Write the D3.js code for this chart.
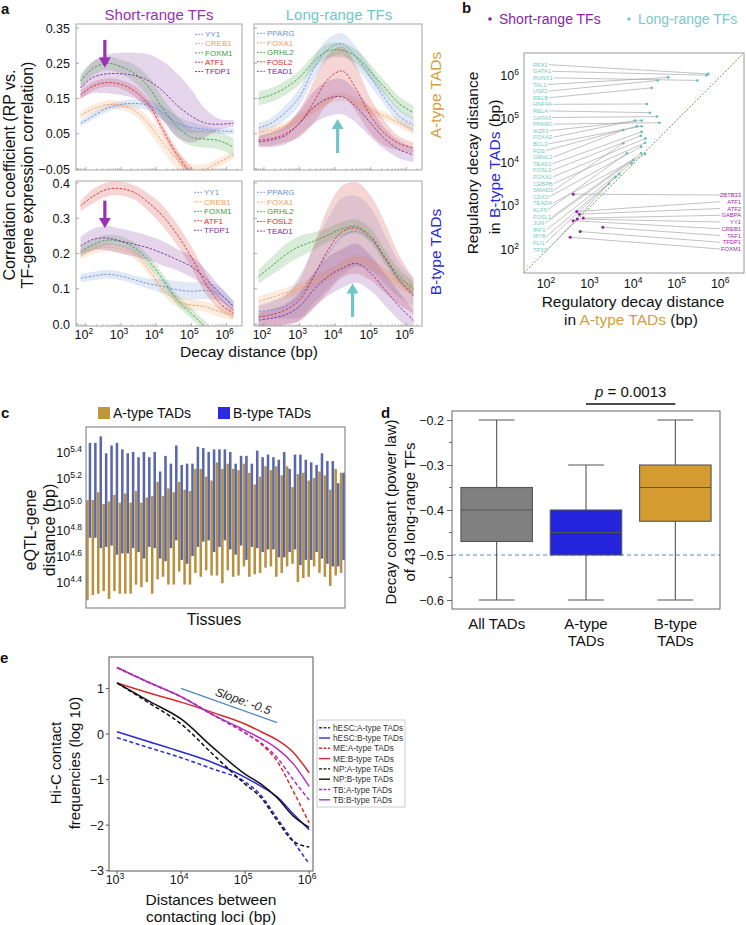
<!DOCTYPE html>
<html><head><meta charset="utf-8">
<script src="https://cdn.jsdelivr.net/npm/d3@7"></script>
<style>
body{margin:0;background:#fff}
svg{font-family:"Liberation Sans",Arial,Helvetica,sans-serif}
</style></head>
<body><svg id="fig" width="746" height="925"></svg>
<script>
// ================= DATA =================
const decayLog = [1.85, 2.2, 2.6, 3.0, 3.4, 3.8, 4.2, 4.6, 5.0, 5.4, 5.8, 6.2];
const shortTFs = ["YY1","CREB1","FOXM1","ATF1","TFDP1"];
const longTFs  = ["PPARG","FOXA1","GRHL2","FOSL2","TEAD1"];
const tfColors = ["#6b8fd9","#f0a060","#3f9b3f","#d42b2b","#7b2c9c"];

const shortA_mean = [
  [0.08,0.10,0.122,0.133,0.136,0.13,0.108,0.08,0.068,0.063,0.058,0.057],
  [0.103,0.12,0.133,0.13,0.115,0.075,0.025,-0.025,-0.055,-0.05,-0.03,-0.01],
  [0.20,0.235,0.25,0.24,0.22,0.18,0.12,0.07,0.04,0.035,0.03,0.012],
  [0.16,0.185,0.195,0.19,0.17,0.13,0.06,-0.01,-0.06,-0.08,-0.08,-0.08],
  [0.18,0.21,0.22,0.22,0.215,0.20,0.17,0.13,0.10,0.08,0.077,0.08]];
const shortA_band = [
  [0.008,0.01,0.01,0.01,0.012,0.015,0.02,0.02,0.015,0.01,0.008,0.008],
  [0.01,0.012,0.012,0.012,0.015,0.02,0.025,0.025,0.02,0.015,0.012,0.01],
  [0.02,0.02,0.02,0.02,0.025,0.03,0.03,0.03,0.025,0.025,0.025,0.025],
  [0.012,0.012,0.012,0.012,0.015,0.015,0.015,0.015,0.015,0.012,0.012,0.012],
  [0.03,0.045,0.055,0.06,0.065,0.075,0.085,0.09,0.075,0.04,0.015,0.01]];
const longA_mean = [
  [0.066,0.08,0.11,0.155,0.235,0.29,0.305,0.265,0.21,0.15,0.10,0.075],
  [0.052,0.06,0.072,0.094,0.12,0.145,0.155,0.138,0.117,0.10,0.08,0.06],
  [0.15,0.16,0.18,0.21,0.255,0.285,0.287,0.268,0.225,0.18,0.135,0.11],
  [0.032,0.036,0.05,0.08,0.14,0.205,0.228,0.175,0.10,0.05,0.022,0.01],
  [0.027,0.032,0.045,0.08,0.125,0.15,0.155,0.125,0.08,0.035,0.005,-0.01]];
const longA_band = [
  [0.015,0.015,0.02,0.025,0.03,0.03,0.03,0.03,0.025,0.02,0.02,0.02],
  [0.012,0.012,0.012,0.012,0.012,0.012,0.012,0.012,0.012,0.012,0.012,0.012],
  [0.02,0.02,0.02,0.02,0.02,0.02,0.02,0.02,0.02,0.02,0.02,0.02],
  [0.015,0.02,0.025,0.04,0.06,0.07,0.07,0.065,0.05,0.035,0.02,0.015],
  [0.015,0.02,0.025,0.035,0.045,0.05,0.05,0.045,0.04,0.03,0.025,0.02]];
const shortB_mean = [
  [0.13,0.136,0.141,0.136,0.125,0.114,0.106,0.097,0.093,0.095,0.085,0.05],
  [0.196,0.21,0.218,0.212,0.196,0.154,0.097,0.064,0.054,0.049,0.035,0.026],
  [0.205,0.225,0.238,0.234,0.215,0.177,0.125,0.068,0.03,-0.008,-0.04,-0.06],
  [0.335,0.362,0.382,0.384,0.372,0.343,0.305,0.253,0.19,0.116,0.06,0.03],
  [0.222,0.24,0.244,0.235,0.226,0.215,0.20,0.182,0.163,0.13,0.088,0.05]];
const shortB_band = [
  [0.012,0.012,0.012,0.012,0.012,0.015,0.02,0.025,0.025,0.025,0.02,0.015],
  [0.012,0.012,0.012,0.012,0.012,0.015,0.015,0.015,0.015,0.015,0.015,0.015],
  [0.015,0.015,0.015,0.015,0.015,0.015,0.015,0.015,0.015,0.015,0.015,0.015],
  [0.015,0.02,0.02,0.02,0.02,0.025,0.03,0.03,0.03,0.03,0.02,0.015],
  [0.025,0.03,0.035,0.035,0.035,0.035,0.035,0.03,0.03,0.025,0.02,0.015]];
const longB_mean = [
  [0.035,0.04,0.05,0.078,0.138,0.20,0.248,0.263,0.24,0.182,0.125,0.09],
  [0.064,0.075,0.088,0.101,0.12,0.139,0.163,0.182,0.168,0.144,0.116,0.095],
  [0.135,0.163,0.196,0.22,0.235,0.252,0.27,0.277,0.25,0.19,0.135,0.10],
  [0.02,0.026,0.04,0.068,0.135,0.21,0.262,0.272,0.244,0.187,0.125,0.08],
  [0.011,0.016,0.026,0.05,0.097,0.135,0.158,0.172,0.144,0.097,0.05,0.01]];
const longB_band = [
  [0.02,0.025,0.035,0.06,0.08,0.10,0.11,0.10,0.09,0.07,0.05,0.04],
  [0.015,0.015,0.015,0.015,0.015,0.015,0.015,0.015,0.015,0.015,0.015,0.015],
  [0.02,0.025,0.03,0.03,0.025,0.02,0.02,0.02,0.02,0.02,0.02,0.02],
  [0.03,0.035,0.04,0.06,0.09,0.12,0.13,0.13,0.12,0.10,0.07,0.05],
  [0.02,0.025,0.03,0.04,0.05,0.055,0.055,0.055,0.05,0.045,0.04,0.03]];
const aTopTicks = [-0.05,0.05,0.15,0.25,0.35];
const aBotTicks = [0,0.1,0.2,0.3,0.4];
const decadeTicks = [2,3,4,5,6];

// Panel b
const bLongNames = ["RFX1","GATA1","RUNX1","TAL1","USF2","RELB","HNF4A","RELA","GATA3","PPARG","IKZF1","FOXA2","BCL3","FOS","GRHL2","TEAD1","FOSL2","FOXA1","CEBPB","SMAD3","CDX2","TEAD4","KLF5","FOSL1","JUN","IRF1","MYB","FLI1","TP53"];
const bLongA = [5.68,5.64,5.43,4.76,4.52,4.38,4.27,4.34,4.50,4.56,4.15,4.00,4.15,4.04,3.73,4.15,4.13,4.24,4.23,3.73,4.14,4.23,3.81,4.14,3.96,3.92,3.64,3.55,3.40];
const bLongB = [6.02,5.99,5.87,5.94,5.87,5.70,5.33,5.13,5.04,4.90,4.95,4.95,4.82,4.82,4.73,4.69,4.60,4.54,4.44,4.43,4.35,4.18,4.20,4.20,4.04,3.97,3.72,3.65,3.50];
const bShortNames = ["ZBTB33","ATF1","ATF2","GABPA","YY1","CREB1","TAF1","TFDP1","FOXM1"];
const bShortA = [2.58,2.66,2.72,2.81,2.67,2.58,3.26,2.74,2.51];
const bShortB = [3.26,2.86,2.80,2.71,2.69,2.65,2.50,2.40,2.27];
const bTicks = [2,3,4,5,6];

// Panel c
const cATop = [5.03,5.03,5.09,5.00,5.02,5.07,5.01,5.08,5.01,5.10,5.01,5.05,5.06,5.17,5.06,5.12,5.09,5.17,5.11,5.10,5.27,5.27,5.21,5.18,5.32,5.27,5.31,5.27,5.26,5.31,5.24,5.15,5.21,5.29,5.26,5.29,5.22,5.29,5.13,5.23,5.24,5.18,5.20,5.25,5.22,5.11,5.27,5.24];
const cABot = [4.26,4.30,4.31,4.33,4.27,4.33,4.31,4.31,4.31,4.38,4.36,4.40,4.31,4.42,4.44,4.38,4.38,4.48,4.38,4.38,4.47,4.44,4.49,4.45,4.45,4.39,4.49,4.44,4.45,4.52,4.44,4.46,4.47,4.51,4.52,4.44,4.47,4.52,4.54,4.40,4.43,4.44,4.52,4.47,4.44,4.37,4.45,4.47];
const cBTop = [5.47,5.47,5.52,5.39,5.45,5.47,5.42,5.39,5.40,5.36,5.40,5.36,5.40,5.25,5.37,5.31,5.45,5.30,5.31,5.31,5.44,5.43,5.40,5.42,5.42,5.42,5.40,5.31,5.37,5.37,5.31,5.41,5.36,5.38,5.36,5.34,5.40,5.27,5.38,5.38,5.34,5.32,5.30,5.39,5.33,5.33,5.16,5.24];
const cBBot = [4.74,4.74,4.66,4.67,4.68,4.61,4.62,4.62,4.66,4.63,4.58,4.67,4.66,4.58,4.56,4.66,4.72,4.57,4.54,4.60,4.67,4.71,4.72,4.63,4.67,4.72,4.65,4.61,4.68,4.57,4.67,4.66,4.63,4.65,4.65,4.59,4.59,4.63,4.65,4.53,4.57,4.57,4.63,4.58,4.54,4.52,4.52,4.57];
const cTicks = [4.4,4.6,4.8,5.0,5.2,5.4];

// Panel d
const dCats = ["All TADs","A-type TADs","B-type TADs"];
const dMin = [-0.6,-0.6,-0.6], dQ1 = [-0.47,-0.5,-0.425], dMed = [-0.40,-0.45,-0.35], dQ3 = [-0.35,-0.40,-0.30], dMax = [-0.2,-0.3,-0.2];
const dColors = ["#808080","#2424dc","#d39b30"];
const dTicks = [-0.6,-0.5,-0.4,-0.3,-0.2];

// Panel e
const eX = [3, 3.5, 4, 4.5, 5, 5.25, 5.5, 5.75, 6];
const eNames = ["hESC:A-type TADs","hESC:B-type TADs","ME:A-type TADs","ME:B-type TADs","NP:A-type TADs","NP:B-type TADs","TB:A-type TADs","TB:B-type TADs"];
const eColors = ["#2b2bd6","#2b2bd6","#d62a2a","#d62a2a","#111111","#111111","#b02fc0","#b02fc0"];
const eDashed = [true,false,true,false,true,false,true,false];
const eY = [
  [-0.08,-0.30,-0.52,-0.77,-1.05,-1.35,-1.85,-2.35,-2.85],
  [0.05,-0.17,-0.39,-0.63,-0.95,-1.15,-1.38,-1.75,-2.10],
  [1.46,1.13,0.82,0.42,0.03,-0.22,-0.60,-1.25,-1.95],
  [1.12,0.90,0.70,0.47,0.22,0.05,-0.13,-0.40,-0.85],
  [1.12,0.68,0.22,-0.45,-1.10,-1.40,-1.90,-2.35,-2.48],
  [1.12,0.72,0.33,-0.30,-0.88,-1.10,-1.40,-1.80,-2.05],
  [1.46,1.13,0.82,0.42,0.02,-0.20,-0.52,-1.00,-1.45],
  [1.46,1.13,0.82,0.42,0.08,-0.10,-0.32,-0.65,-1.15]];
const eYTicks = [-3,-2,-1,0,1];
const eXTicks = [3,4,5,6];
const slopeX = [4.0,5.5], slopeY = [1.0,0.25];

// ================= DRAW =================
const svg = d3.select("#fig");
const defs = svg.append("defs");
let clipN = 0;
function sup(t, base, exp, fs){
  t.text(null);
  t.append("tspan").text(base);
  t.append("tspan").attr("dy", -fs*0.42).attr("font-size", fs*0.68).text(exp);
}
function txt(x,y,s,o={}){
  const t = svg.append("text").attr("x",x).attr("y",y).text(s)
    .attr("font-size",o.fs||12).attr("fill",o.fill||"#111")
    .attr("text-anchor",o.anchor||"start");
  if(o.bold) t.attr("font-weight","bold");
  if(o.rot!=null) t.attr("transform",`rotate(${o.rot},${x},${y})`);
  return t;
}

// ---- Panel a ----
txt(1,14,"a",{fs:15,bold:true});
txt(159,20,"Short-range TFs",{fs:15,anchor:"middle",fill:"#9b2fb0"});
txt(339,20,"Long-range TFs",{fs:15,anchor:"middle",fill:"#6ec6c8"});
const aXDom = [1.72,6.44];
function curvePanel(x0,x1,ys,yt,yb,means,bands,names,lx,ly,lstep,yTicks,yFmt,showXLab){
  const xs = d3.scaleLinear().domain(aXDom).range([x0,x1]);
  const id = "cl"+(clipN++);
  defs.append("clipPath").attr("id",id).append("rect").attr("x",x0).attr("y",yt).attr("width",x1-x0).attr("height",yb-yt);
  const g = svg.append("g");
  const pg = g.append("g").attr("clip-path",`url(#${id})`);
  means.forEach((m,i)=>{
    const pts = decayLog.map((x,j)=>({x,y:m[j],b:bands[i][j]}));
    pg.append("path").datum(pts)
      .attr("d", d3.area().curve(d3.curveCatmullRom).x(d=>xs(d.x)).y0(d=>ys(d.y-d.b)).y1(d=>ys(d.y+d.b)))
      .attr("fill",tfColors[i]).attr("fill-opacity",0.2);
  });
  means.forEach((m,i)=>{
    const pts = decayLog.map((x,j)=>({x,y:m[j]}));
    pg.append("path").datum(pts)
      .attr("d", d3.line().curve(d3.curveCatmullRom).x(d=>xs(d.x)).y(d=>ys(d.y)))
      .attr("fill","none").attr("stroke",tfColors[i]).attr("stroke-width",0.9).attr("stroke-dasharray","2.5,1.5");
  });
  g.append("rect").attr("x",x0).attr("y",yt).attr("width",x1-x0).attr("height",yb-yt).attr("fill","none").attr("stroke","#a5a5a5");
  const minor = [];
  for(let e=1;e<=6;e++) for(let k=2;k<=9;k++){const v=e+Math.log10(k); if(v>aXDom[0]&&v<aXDom[1]) minor.push(v);}
  g.selectAll(null).data(minor).enter().append("line").attr("x1",d=>xs(d)).attr("x2",d=>xs(d)).attr("y1",yb).attr("y2",yb-1.8).attr("stroke","#999").attr("stroke-width",0.6);
  g.selectAll(null).data(decadeTicks).enter().append("line").attr("x1",d=>xs(d)).attr("x2",d=>xs(d)).attr("y1",yb).attr("y2",yb-3).attr("stroke","#888").attr("stroke-width",0.7);
  g.selectAll(null).data(yTicks).enter().append("line").attr("x1",x0).attr("x2",x0+3).attr("y1",d=>ys(d)).attr("y2",d=>ys(d)).attr("stroke","#888").attr("stroke-width",0.7);
  if(yFmt){
    yTicks.forEach(v=>{ txt(x0-6, ys(v)+4.5, d3.format(yFmt)(v), {fs:12.5,anchor:"end"}); });
  }
  if(showXLab){
    decadeTicks.forEach(v=>sup(txt(xs(v)-2,339,"",{fs:12.5,anchor:"middle"}),"10",v,12.5));
  }
  names.forEach((n,i)=>{
    g.append("line").attr("x1",lx).attr("x2",lx+8).attr("y1",ly+i*lstep-2.7).attr("y2",ly+i*lstep-2.7).attr("stroke",tfColors[i]).attr("stroke-width",0.9).attr("stroke-dasharray","2,1.2");
    txt(lx+10,ly+i*lstep,n,{fs:8,fill:tfColors[i]});
  });
  return xs;
}
const aYTop = d3.scaleLinear().domain([-0.05,0.35]).range([169,28]);
const aYBot = d3.scaleLinear().domain([0,0.4]).range([324,183]);
const xTL = curvePanel(76,242,aYTop,24,170,shortA_mean,shortA_band,shortTFs,195,37,9.3,aTopTicks,".2f",false);
const xTR = curvePanel(254,422,aYTop,24,170,longA_mean,longA_band,longTFs,257,36,9.5,aTopTicks,null,false);
const xBL = curvePanel(76,242,aYBot,181,326,shortB_mean,shortB_band,shortTFs,194,195,9.5,aBotTicks,".1f",true);
const xBR = curvePanel(254,422,aYBot,181,326,longB_mean,longB_band,longTFs,257,195,9.7,aBotTicks,null,true);

function arrow(x,yTail,yTip,color){
  const dir = yTip>yTail?1:-1;
  svg.append("line").attr("x1",x).attr("x2",x).attr("y1",yTail).attr("y2",yTip-dir*7).attr("stroke",color).attr("stroke-width",3.2);
  svg.append("path").attr("d",`M${x-6},${yTip-dir*10}L${x+6},${yTip-dir*10}L${x},${yTip}Z`).attr("fill",color);
}
arrow(xTL(2.54),aYTop(0.316),aYTop(0.238),"#9b30b2");
arrow(xBL(2.54),aYBot(0.35),aYBot(0.272),"#9b30b2");
arrow(xTR(4.07),aYTop(-0.005),aYTop(0.092),"#6ec6c8");
arrow(xBR(4.49),aYBot(0.02),aYBot(0.115),"#6ec6c8");

txt(249,357,"Decay distance (bp)",{fs:15.5,anchor:"middle"});
txt(15,175,"Correlation coefficient (RP vs.",{fs:16,anchor:"middle",rot:-90});
txt(33,175,"TF-gene expression correlation)",{fs:16,anchor:"middle",rot:-90});
txt(441,95,"A-type TADs",{fs:15.5,anchor:"middle",fill:"#d3a040",rot:-90});
txt(441,252,"B-type TADs",{fs:15.5,anchor:"middle",fill:"#2a2ae0",rot:-90});

// ---- Panel b ----
txt(462,13,"b",{fs:15,bold:true});
svg.append("circle").attr("cx",490).attr("cy",19).attr("r",1.8).attr("fill","#8c1f9e");
txt(499,24,"Short-range TFs",{fs:14,fill:"#8c1f9e"});
svg.append("circle").attr("cx",629).attr("cy",19).attr("r",1.8).attr("fill","#7cc8c8");
txt(638,24,"Long-range TFs",{fs:14,fill:"#7cc8c8"});
const bx = d3.scaleLinear().domain([1.45,6.5]).range([524,744]);
const by = d3.scaleLinear().domain([1.45,6.5]).range([273,53]);
svg.append("line").attr("x1",bx(1.45)).attr("y1",by(1.45)).attr("x2",bx(6.5)).attr("y2",by(6.5)).attr("stroke","#5f9a3a").attr("stroke-width",0.9).attr("stroke-dasharray","2,1.6");
const lblLong = svg.append("g").attr("font-size",5.8).attr("fill","#72cbc2");
bLongNames.forEach((n,i)=>{
  const ly = 64.7 + i*6.6;
  const t = lblLong.append("text").attr("x",533).attr("y",ly+2).text(n);
  const w = t.node().getComputedTextLength();
  svg.append("line").attr("x1",533+w+1).attr("y1",ly).attr("x2",bx(bLongA[i])).attr("y2",by(bLongB[i])).attr("stroke","#a8a8a8").attr("stroke-width",0.7);
});
bShortNames.forEach((n,i)=>{
  const ly = 195 + i*6.75;
  svg.append("text").attr("x",741).attr("y",ly+2).attr("text-anchor","end").attr("font-size",5.8).attr("fill","#a21caf").text(n);
  svg.append("line").attr("x1",bx(bShortA[i])).attr("y1",by(bShortB[i])).attr("x2",720).attr("y2",ly).attr("stroke","#a8a8a8").attr("stroke-width",0.7);
});
svg.selectAll(null).data(bLongNames).enter().append("circle").attr("cx",(d,i)=>bx(bLongA[i])).attr("cy",(d,i)=>by(bLongB[i])).attr("r",1.3).attr("fill","#5fbfb5");
svg.selectAll(null).data(bShortNames).enter().append("circle").attr("cx",(d,i)=>bx(bShortA[i])).attr("cy",(d,i)=>by(bShortB[i])).attr("r",1.5).attr("fill","#9a1ca8");
svg.append("rect").attr("x",524).attr("y",53).attr("width",220).attr("height",220).attr("fill","none").attr("stroke","#9a9a9a");
bTicks.forEach(v=>{
  sup(txt(bx(v)-2,288,"",{fs:12.5,anchor:"middle"}),"10",v,12.5);
  sup(txt(519,by(v)+5,"",{fs:12.5,anchor:"end"}),"10",v,12.5);
});
txt(633,307,"Regulatory decay distance",{fs:15.5,anchor:"middle"});
{
  const t = txt(631,325,"",{fs:15.5,anchor:"middle"});
  t.append("tspan").text("in ");
  t.append("tspan").attr("fill","#d3a040").text("A-type TADs");
  t.append("tspan").text("  (bp)");
}
txt(478,163,"Regulatory decay distance",{fs:15.5,anchor:"middle",rot:-90});
{
  const t = txt(500,167,"",{fs:15.5,anchor:"middle",rot:-90});
  t.append("tspan").text("in ");
  t.append("tspan").attr("fill","#2a2ae0").text("B-type TADs");
  t.append("tspan").text("  (bp)");
}

// ---- Panel c ----
txt(1,418,"c",{fs:15,bold:true});
svg.append("rect").attr("x",98).attr("y",407).attr("width",12).attr("height",12).attr("fill","#c0963c");
txt(113,418,"A-type TADs",{fs:14});
svg.append("rect").attr("x",218).attr("y",407).attr("width",12).attr("height",12).attr("fill","#2a2ae0");
txt(233,418,"B-type TADs",{fs:14});
const cx = d3.scaleBand().domain(d3.range(cATop.length)).range([86,345]).paddingInner(0);
const cy = d3.scaleLinear().domain([4.2,5.592]).range([608,427]);
const bw = cx.step()*0.47;
svg.selectAll(null).data(cATop).enter().append("rect")
  .attr("x",(d,i)=>cx(i)+0.2).attr("width",bw).attr("y",d=>cy(d)).attr("height",(d,i)=>cy(cABot[i])-cy(d))
  .attr("fill","#b8903e");
svg.selectAll(null).data(cBTop).enter().append("rect")
  .attr("x",(d,i)=>cx(i)+cx.step()*0.5).attr("width",bw).attr("y",d=>cy(d)).attr("height",(d,i)=>cy(cBBot[i])-cy(d))
  .attr("fill","#5a68aa");
svg.append("rect").attr("x",86).attr("y",427).attr("width",259).attr("height",181).attr("fill","none").attr("stroke","#777");
cTicks.forEach(v=>{
  sup(txt(82,cy(v)+5,"",{fs:12.5,anchor:"end"}),"10",d3.format(".1f")(v),12.5);
});
txt(36,530,"eQTL-gene",{fs:16,anchor:"middle",rot:-90});
txt(55,530,"distance (bp)",{fs:16,anchor:"middle",rot:-90});
txt(214,625,"Tissues",{fs:16,anchor:"middle"});

// ---- Panel d ----
txt(381,418,"d",{fs:15,bold:true});
const dx = d3.scaleBand().domain(dCats).range([452,720]).paddingInner(0.2).paddingOuter(0.1);
const dy = d3.scaleLinear().domain([-0.62,-0.18]).range([609,411]);
svg.append("line").attr("x1",452).attr("x2",720).attr("y1",dy(-0.5)).attr("y2",dy(-0.5)).attr("stroke","#5b8bc9").attr("stroke-width",1).attr("stroke-dasharray","4,3");
dCats.forEach((c,i)=>{
  const x0 = dx(c), w = dx.bandwidth(), xc = x0+w/2;
  const g = svg.append("g").attr("stroke","#555").attr("stroke-width",1.1);
  g.append("line").attr("x1",xc).attr("x2",xc).attr("y1",dy(dMin[i])).attr("y2",dy(dQ1[i]));
  g.append("line").attr("x1",xc).attr("x2",xc).attr("y1",dy(dQ3[i])).attr("y2",dy(dMax[i]));
  g.append("line").attr("x1",xc-w/4).attr("x2",xc+w/4).attr("y1",dy(dMin[i])).attr("y2",dy(dMin[i]));
  g.append("line").attr("x1",xc-w/4).attr("x2",xc+w/4).attr("y1",dy(dMax[i])).attr("y2",dy(dMax[i]));
  g.append("rect").attr("x",x0).attr("width",w).attr("y",dy(dQ3[i])).attr("height",dy(dQ1[i])-dy(dQ3[i])).attr("fill",dColors[i]);
  g.append("line").attr("x1",x0).attr("x2",x0+w).attr("y1",dy(dMed[i])).attr("y2",dy(dMed[i]));
});
svg.append("rect").attr("x",452).attr("y",411).attr("width",268).attr("height",198).attr("fill","none").attr("stroke","#666");
const dAxis = svg.append("g").attr("transform","translate(452,0)")
  .call(d3.axisLeft(dy).tickValues(dTicks).tickSize(5).tickFormat(d3.format(".1f")));
dAxis.select(".domain").remove();
dAxis.selectAll(".tick line").attr("stroke","#666");
dAxis.selectAll(".tick text").attr("font-size",12.5).attr("fill","#111").attr("font-family",null);
svg.selectAll(null).data([-0.55,-0.45,-0.35,-0.25]).enter().append("line").attr("x1",449).attr("x2",452).attr("y1",d=>dy(d)).attr("y2",d=>dy(d)).attr("stroke","#666");
txt(dx("All TADs")+dx.bandwidth()/2,629,"All TADs",{fs:15,anchor:"middle"});
txt(dx("A-type TADs")+dx.bandwidth()/2,629,"A-type",{fs:15,anchor:"middle"});
txt(dx("A-type TADs")+dx.bandwidth()/2,646,"TADs",{fs:15,anchor:"middle"});
txt(dx("B-type TADs")+dx.bandwidth()/2,629,"B-type",{fs:15,anchor:"middle"});
txt(dx("B-type TADs")+dx.bandwidth()/2,646,"TADs",{fs:15,anchor:"middle"});
txt(396,512,"Decay constant (power law)",{fs:15,anchor:"middle",rot:-90});
txt(415,512,"of 43 long-range TFs",{fs:15,anchor:"middle",rot:-90});
{
  const xa = dx("A-type TADs")+dx.bandwidth()/2, xb = dx("B-type TADs")+dx.bandwidth()/2;
  svg.append("line").attr("x1",xa).attr("x2",xb).attr("y1",404).attr("y2",404).attr("stroke","#111").attr("stroke-width",1.6);
  const t = txt((xa+xb)/2,397,"",{fs:15,anchor:"middle"});
  t.append("tspan").attr("font-style","italic").text("p");
  t.append("tspan").text(" = 0.0013");
}

// ---- Panel e ----
txt(0,663,"e",{fs:15,bold:true});
const ex = d3.scaleLinear().domain([2.875,6.06]).range([109,313]);
const ey = d3.scaleLinear().domain([-3,1.69]).range([870.7,657]);
eY.forEach((ys,i)=>{
  svg.append("path").datum(eX.map((x,j)=>[x,ys[j]]))
    .attr("d",d3.line().curve(d3.curveMonotoneX).x(d=>ex(d[0])).y(d=>ey(d[1])))
    .attr("fill","none").attr("stroke",eColors[i]).attr("stroke-width",1.5)
    .attr("stroke-dasharray",eDashed[i]?"4,2.5":null);
});
svg.append("rect").attr("x",109).attr("y",657).attr("width",204).attr("height",214).attr("fill","none").attr("stroke","#555");
svg.append("line").attr("x1",ex(slopeX[0])).attr("y1",ey(slopeY[0])).attr("x2",ex(slopeX[1])).attr("y2",ey(slopeY[1])).attr("stroke","#4a86c0").attr("stroke-width",1.3);
{
  const ang = Math.atan2(ey(slopeY[1])-ey(slopeY[0]), ex(slopeX[1])-ex(slopeX[0]))*180/Math.PI;
  const mx = ex(4.95), my = ey(0.55)-4;
  svg.append("text").attr("x",mx).attr("y",my).attr("text-anchor","middle").attr("font-size",12).attr("font-style","italic").attr("fill","#222")
    .attr("transform",`rotate(${ang},${mx},${my})`).text("Slope: -0.5");
}
eYTicks.forEach(v=>{
  txt(104,ey(v)+4.5,d3.format("d")(v),{fs:12.5,anchor:"end"});
  svg.append("line").attr("x1",106).attr("x2",109).attr("y1",ey(v)).attr("y2",ey(v)).attr("stroke","#555");
});
eXTicks.forEach(v=>{
  sup(txt(ex(v)-2,884,"",{fs:12.5,anchor:"middle"}),"10",v,12.5);
  svg.append("line").attr("x1",ex(v)).attr("x2",ex(v)).attr("y1",871).attr("y2",874).attr("stroke","#555");
});
txt(61,763,"Hi-C contact",{fs:15,anchor:"middle",rot:-90});
txt(80,763,"frequencies (log 10)",{fs:15,anchor:"middle",rot:-90});
txt(211,905,"Distances between",{fs:15.5,anchor:"middle"});
txt(211,922,"contacting loci (bp)",{fs:15.5,anchor:"middle"});
svg.append("rect").attr("x",317).attr("y",720).attr("width",88).attr("height",87).attr("fill","#fff").attr("stroke","#ccc");
eNames.forEach((n,i)=>{
  const ly = 727.7 + i*10.3;
  svg.append("line").attr("x1",319).attr("x2",330).attr("y1",ly).attr("y2",ly).attr("stroke",eColors[i]).attr("stroke-width",1.4).attr("stroke-dasharray",eDashed[i]?"3,1.5":null);
  txt(333,ly+3,n,{fs:8.3,fill:"#333"});
});
</script></body></html>
